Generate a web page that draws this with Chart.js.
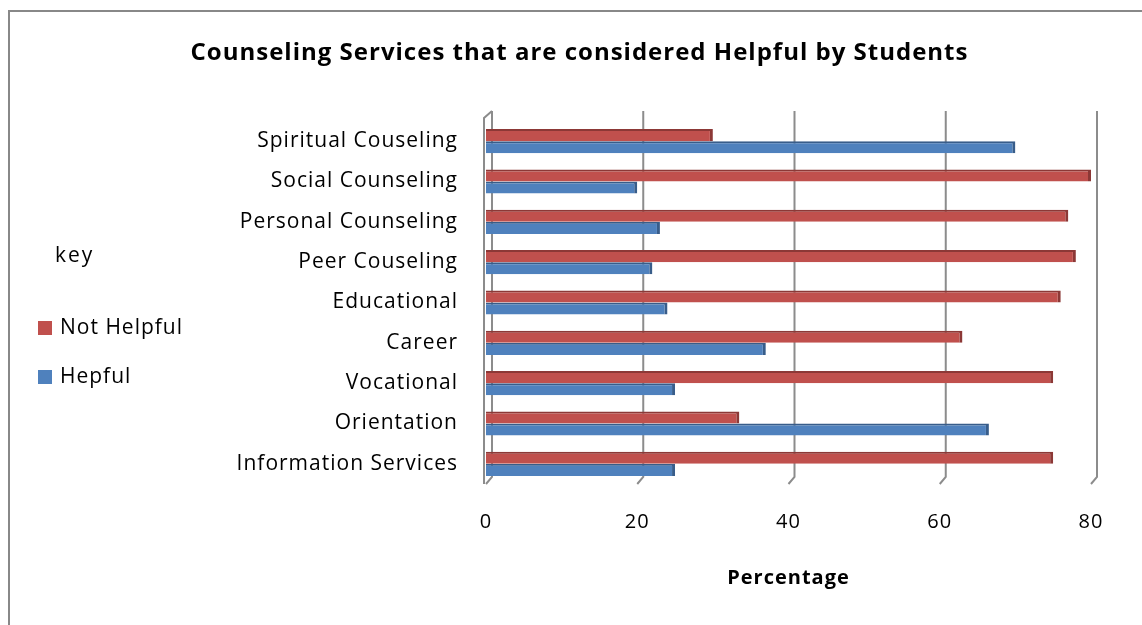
<!DOCTYPE html>
<html>
<head>
<meta charset="utf-8">
<script src="https://cdn.jsdelivr.net/npm/chart.js@4.4.1/dist/chart.umd.min.js"></script>
<style>
    html, body { margin: 0; padding: 0; background: #fff; }
    .wrap { position: relative; width: 1142px; height: 625px; overflow: hidden; }
    .frame { position: absolute; left: 8px; top: 10px; width: 1200px; height: 700px; border: 2px solid #888; box-sizing: border-box; }
    canvas { position: absolute; left: 0; top: 0; }
    .key { position: absolute; left: 0; top: 0; font-family: "Open Sans", sans-serif; font-size: 21px; letter-spacing: 1px; color: #000; }
    .key .head { position: absolute; left: 55px; top: 240px; letter-spacing: 2px; }
    .key .item { position: absolute; left: 38px; white-space: nowrap; }
    .key .swatch { display: inline-block; width: 14px; height: 14px; margin-right: 8px; vertical-align: -1px; }
</style>
</head>
<body>
<div class="wrap">
    <div class="frame"></div>
    <canvas class="chart" width="1142" height="625"></canvas>
    <div class="key"><div class="head">key</div></div>
</div>
<script>
const categories = [
    "Spiritual Couseling", "Social Counseling", "Personal Counseling", "Peer Couseling",
    "Educational", "Career", "Vocational", "Orientation", "Information Services"
];
const notHelpful = [30, 80, 77, 78, 76, 63, 75, 33.5, 75];
const helpful = [70, 20, 23, 22, 24, 37, 25, 66.5, 25];
const xTicks = [0, 20, 40, 60, 80];

const FONT = "'Open Sans', sans-serif";
const depth = { dx: 6, dy: 7 };

// slightly spaced-out lettering for title and axis text
const spacing = {
    id: "spacing",
    beforeDraw(chart) { chart.ctx.letterSpacing = "1px"; },
    beforeDatasetsDraw(chart) { chart.ctx.letterSpacing = "0px"; }
};

// gridlines drawn as the back wall of an Excel-style 3D plot
const wall3d = {
    id: "wall3d",
    beforeDatasetsDraw(chart) {
        const { ctx, chartArea: { top, bottom } } = chart;
        const x = chart.scales.x;
        const t = top - 3;
        ctx.save();
        ctx.strokeStyle = "#8c8c8c";
        ctx.lineWidth = 2;
        xTicks.forEach(v => {
            const px = x.getPixelForValue(v);
            ctx.beginPath();
            ctx.moveTo(px + depth.dx, t - depth.dy);
            ctx.lineTo(px + depth.dx, bottom - depth.dy);
            ctx.lineTo(px, bottom);
            ctx.stroke();
            if (v === 0) {
                ctx.beginPath();
                ctx.moveTo(px + depth.dx, t - depth.dy);
                ctx.lineTo(px - 2, t);
                ctx.lineTo(px - 2, bottom);
                ctx.stroke();
            }
        });
        ctx.restore();
    }
};

const red = "#c0504d", redDark = "#8c3836";
const blue = "#4f81bd", blueDark = "#385d8a";

const ctx = document.querySelector(".chart").getContext("2d");
const chart = new Chart(ctx, {
    type: "bar",
    data: {
        labels: categories,
        datasets: [{
            label: "Not Helpful",
            data: notHelpful,
            backgroundColor: red,
            borderColor: redDark,
            borderWidth: { top: 2, right: 3, bottom: 0, left: 0 },
            borderSkipped: false,
            barPercentage: 1,
            categoryPercentage: 0.6
        }, {
            label: "Hepful",
            data: helpful,
            backgroundColor: blue,
            borderColor: blueDark,
            borderWidth: { top: 2, right: 3, bottom: 0, left: 0 },
            borderSkipped: false,
            barPercentage: 1,
            categoryPercentage: 0.6
        }]
    },
    options: {
        indexAxis: "y",
        responsive: false,
        animation: false,
        layout: { padding: { left: 68, right: 51, top: 0, bottom: 0 } },
        plugins: {
            legend: { display: false },
            tooltip: { enabled: false },
            title: {
                display: true,
                text: "Counseling Services that are considered Helpful by Students",
                color: "#000",
                font: { family: FONT, size: 24, weight: "bold" },
                padding: { top: 39, bottom: 53.2 }
            }
        },
        scales: {
            x: {
                min: 0,
                max: 80,
                afterBuildTicks: s => { s.ticks = xTicks.map(v => ({ value: v })); },
                afterFit: s => { s.height = 141; },
                grid: { display: false },
                border: { display: false },
                ticks: { color: "#000", padding: 18, font: { family: FONT, size: 20 } },
                title: {
                    display: true,
                    text: "Percentage",
                    color: "#000",
                    font: { family: FONT, size: 20, weight: "bold" },
                    padding: { top: 0, bottom: 35 }
                }
            },
            y: {
                afterFit: s => { s.width = 418; },
                grid: { display: false, drawTicks: false },
                border: { display: false },
                ticks: { color: "#000", padding: 28, font: { family: FONT, size: 21 } }
            }
        }
    },
    plugins: [spacing, wall3d]
});

// legend items built from the datasets
const key = document.querySelector(".key");
chart.data.datasets.forEach((ds, i) => {
    const item = document.createElement("div");
    item.className = "item";
    item.style.top = (312 + i * 49) + "px";
    item.innerHTML = `<span class="swatch" style="background:${ds.backgroundColor}"></span>${ds.label}`;
    key.appendChild(item);
});
</script>
</body>
</html>
